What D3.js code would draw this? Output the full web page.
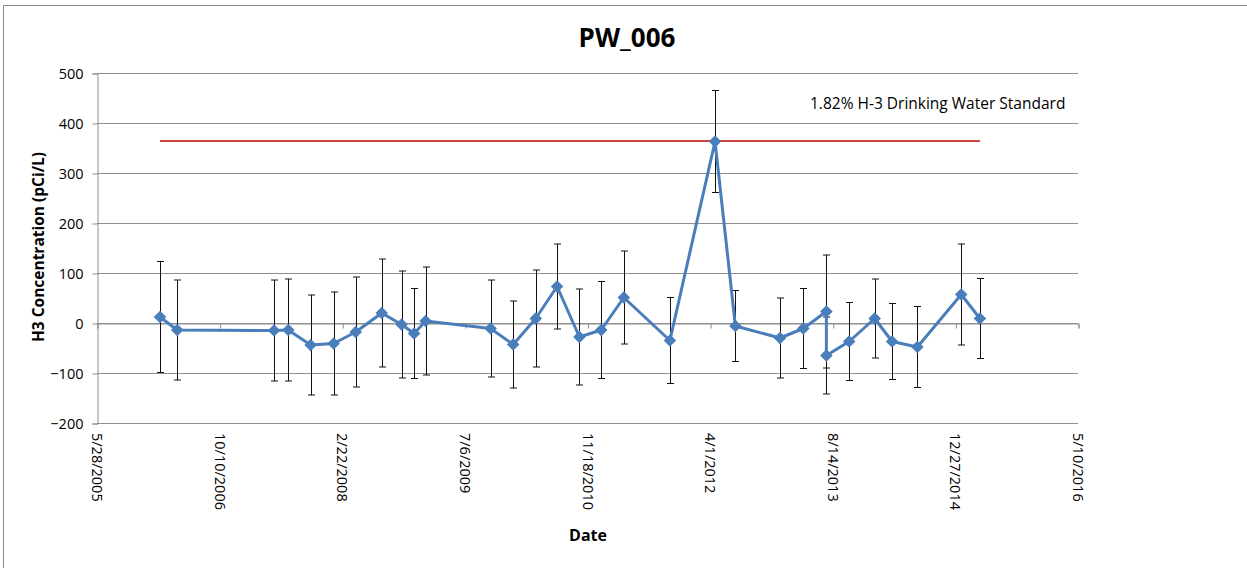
<!DOCTYPE html>
<html lang="en">
  <head>
    <meta charset="utf-8" />
    <title>PW_006</title>
    <script src="https://d3js.org/d3.v7.min.js"></script>
    <style>
      body {
        margin: 0;
        background: #fff;
        font-family: "Open Sans", "Liberation Sans", sans-serif;
      }
      svg text {
        fill: #000;
      }
    </style>
  </head>
  <body>
    <svg id="chart" width="1247" height="568"></svg>
    <script>
      // sample dates
      const dates = [
        "2006-02-09", "2006-04-20", "2007-05-20", "2007-07-17", "2007-10-16",
        "2008-01-18", "2008-04-17", "2008-08-01", "2008-10-21", "2008-12-11",
        "2009-01-27", "2009-10-19", "2010-01-19", "2010-04-21", "2010-07-17",
        "2010-10-16", "2011-01-13", "2011-04-15", "2011-10-20", "2012-04-21",
        "2012-07-13", "2013-01-11", "2013-04-16", "2013-07-19", "2013-07-19",
        "2013-10-20", "2014-02-01", "2014-04-13", "2014-07-25", "2015-01-20",
        "2015-04-06"
      ];
      // H3 concentration, pCi/L
      const values = [
        12, -14, -15, -14, -44, -41, -18, 20, -3, -21, 4,
        -11, -43, 9, 73, -28, -14, 51, -35, 363,
        -6, -30, -11, 23, -65, -37, 9, -37, -48, 57, 9
      ];
      // +/- uncertainty
      const errors = [
        111, 100, 101, 102, 100, 103, 110, 108, 107, 90, 108,
        97, 87, 97, 85, 96, 97, 93, 86, 102,
        71, 80, 80, 113, 77, 78, 79, 76, 81, 101, 80
      ];
      const xTickLabels = [
        "5/28/2005", "10/10/2006", "2/22/2008", "7/6/2009", "11/18/2010",
        "4/1/2012", "8/14/2013", "12/27/2014", "5/10/2016"
      ];
      const yTicks = [-200, -100, 0, 100, 200, 300, 400, 500];
      const standard = 364; // 1.82% of 20,000 pCi/L
      const standardLabel = "1.82% H-3 Drinking  Water Standard";

      const svg = d3.select("#chart");
      const parseIso = d3.timeParse("%Y-%m-%d");
      const parseUs = d3.timeParse("%m/%d/%Y");
      const tickDates = xTickLabels.map(parseUs);

      const data = dates.map((d, i) => ({
        date: parseIso(d),
        value: values[i],
        err: errors[i],
      }));

      const plotLeft = 97, plotRight = 1078, plotTop = 73, plotBottom = 423;

      const x = d3
        .scaleTime()
        .domain([tickDates[0], tickDates[tickDates.length - 1]])
        .range([plotLeft, plotRight]);
      const y = d3.scaleLinear().domain([-200, 500]).range([plotBottom, plotTop]);

      // outer chart border (top and left edges visible)
      svg
        .append("rect")
        .attr("x", 3.5)
        .attr("y", 5.5)
        .attr("width", 1300)
        .attr("height", 700)
        .attr("fill", "none")
        .attr("stroke", "#8c8c8c");

      // horizontal gridlines
      svg
        .append("g")
        .selectAll("line")
        .data(yTicks)
        .join("line")
        .attr("x1", plotLeft)
        .attr("x2", plotRight)
        .attr("y1", (d) => Math.round(y(d)) + 0.5)
        .attr("y2", (d) => Math.round(y(d)) + 0.5)
        .attr("stroke", "#8f8f8f")
        .attr("stroke-width", 1);

      // y axis
      const yAxis = svg
        .append("g")
        .attr("transform", `translate(${plotLeft + 0.5},0.5)`)
        .call(d3.axisLeft(y).tickValues(yTicks).tickSize(5).tickPadding(9));
      yAxis.select(".domain").attr("stroke", "#8f8f8f");
      yAxis.selectAll(".tick line").attr("stroke", "#8f8f8f");
      yAxis
        .selectAll(".tick text")
        .attr("font-size", 14.5)
        .attr("font-family", "Open Sans, sans-serif")
        .attr("fill", "#222");

      // x axis crosses at 0, ticks only
      const xAxis = svg
        .append("g")
        .attr("transform", `translate(0.5,${Math.round(y(0)) + 0.5})`)
        .call(d3.axisBottom(x).tickValues(tickDates).tickSize(5).tickFormat(""));
      xAxis.select(".domain").attr("stroke", "#8f8f8f");
      xAxis.selectAll(".tick line").attr("stroke", "#8f8f8f");

      // x tick labels rotated, placed below the plot
      svg
        .append("g")
        .selectAll("text")
        .data(tickDates)
        .join("text")
        .attr("transform", (d) => `translate(${x(d) - 5},${plotBottom + 10}) rotate(90)`)
        .attr("font-size", 14.5)
        .attr("font-family", "Open Sans, sans-serif")
        .attr("fill", "#222")
        .text((d, i) => xTickLabels[i]);

      // drinking water standard line
      svg
        .append("line")
        .attr("x1", x(data[0].date))
        .attr("x2", x(data[data.length - 1].date))
        .attr("y1", y(standard))
        .attr("y2", y(standard))
        .attr("stroke", "#c9443f")
        .attr("stroke-width", 2);

      svg
        .append("text")
        .attr("x", 810)
        .attr("y", 109)
        .attr("font-size", 15.5)
        .attr("font-family", "Open Sans, sans-serif")
        .attr("fill", "#222")
        .text(standardLabel);

      // error bars
      const eb = svg.append("g").attr("stroke", "#111").attr("stroke-width", 1);
      data.forEach((d) => {
        const cx = Math.round(x(d.date)) + 0.5;
        const y1 = y(d.value + d.err), y2 = y(d.value - d.err);
        eb.append("line").attr("x1", cx).attr("x2", cx).attr("y1", y1).attr("y2", y2);
        eb.append("line").attr("x1", cx - 3.5).attr("x2", cx + 3.5).attr("y1", y1).attr("y2", y1);
        eb.append("line").attr("x1", cx - 3.5).attr("x2", cx + 3.5).attr("y1", y2).attr("y2", y2);
      });

      // series line
      const line = d3
        .line()
        .x((d) => x(d.date))
        .y((d) => y(d.value));
      svg
        .append("path")
        .datum(data)
        .attr("d", line)
        .attr("fill", "none")
        .attr("stroke", "#4a7ebb")
        .attr("stroke-width", 3)
        .attr("stroke-linejoin", "round");

      // diamond markers
      const diamond = d3.symbol().type(d3.symbolSquare).size(62);
      svg
        .append("g")
        .selectAll("path")
        .data(data)
        .join("path")
        .attr("d", diamond)
        .attr("transform", (d) => `translate(${x(d.date)},${y(d.value)}) rotate(45)`)
        .attr("fill", "#4a7ebb")
        .attr("stroke", "#4a7ebb")
        .attr("stroke-width", 1);

      // titles
      svg
        .append("text")
        .attr("x", 627)
        .attr("y", 47)
        .attr("text-anchor", "middle")
        .attr("font-size", 26)
        .attr("font-weight", "bold")
        .attr("font-family", "Open Sans, sans-serif")
        .text("PW_006");

      svg
        .append("text")
        .attr("transform", "translate(44,247) rotate(-90)")
        .attr("text-anchor", "middle")
        .attr("font-size", 15.5)
        .attr("font-weight", "bold")
        .attr("font-family", "Open Sans, sans-serif")
        .text("H3 Concentration (pCi/L)");

      svg
        .append("text")
        .attr("x", 588)
        .attr("y", 541)
        .attr("text-anchor", "middle")
        .attr("font-size", 16)
        .attr("font-weight", "bold")
        .attr("font-family", "Open Sans, sans-serif")
        .text("Date");
    </script>
  </body>
</html>
